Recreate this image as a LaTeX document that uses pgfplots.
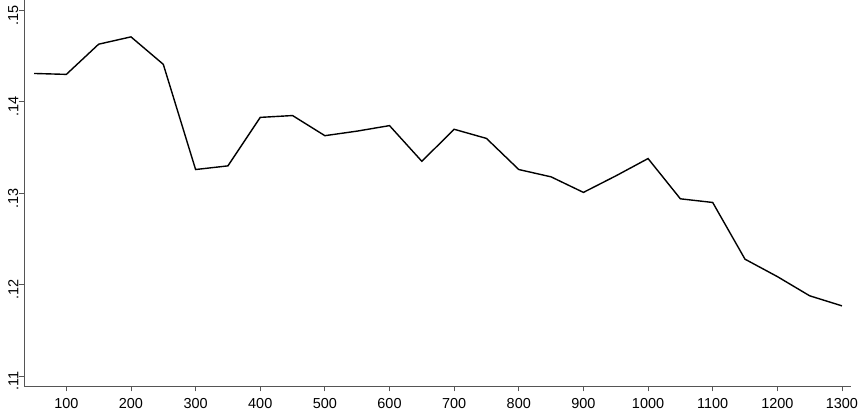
\documentclass[border=0pt]{standalone}
\usepackage{fontspec}
\setmainfont{Liberation Sans}
\usepackage{pgfplots}
\pgfplotsset{compat=1.18}
\definecolor{axisgray}{HTML}{555555}

\begin{document}
\begin{tikzpicture}
\begin{axis}[
  scale only axis,
  width=827bp, height=386bp,
  xmin=34.5, xmax=1314,
  ymin=0.10894, ymax=0.15113,
  axis x line*=bottom, axis y line*=left,
  axis line style={axisgray, line width=0.9bp, -},
  xtick={100,200,...,1300},
  ytick={0.11,0.12,0.13,0.14,0.15},
  yticklabels={.11,.12,.13,.14,.15},
  tick style={axisgray, line width=0.9bp},
  tick align=outside,
  major tick length=5.5bp,
  xticklabel style={font=\fontsize{14.5}{14.5}\selectfont, anchor=north, inner sep=0pt, yshift=-6.5bp},
  yticklabel style={font=\fontsize{14.5}{14.5}\selectfont, rotate=90, anchor=south, inner sep=0pt, xshift=-5bp},
  /pgf/number format/assume math mode=true,
  /pgf/number format/1000 sep={},
  scaled ticks=false,
]
\coordinate (bl) at (rel axis cs:0,0);
\addplot[black, line width=1.4bp, mark=none] coordinates {
(50,0.1431)(100,0.1430)(150,0.1463)(200,0.1471)(250,0.1441)
(300,0.1326)(350,0.1330)(400,0.1383)(450,0.1385)(500,0.1363)
(550,0.1368)(600,0.1374)(650,0.1335)(700,0.1370)(750,0.1360)
(800,0.1326)(850,0.1318)(900,0.1301)(950,0.1319)(1000,0.1338)
(1050,0.1294)(1100,0.1290)(1150,0.1228)(1200,0.1209)(1250,0.1188)
(1300,0.1177)};
\end{axis}
\pgfresetboundingbox
\path ([shift={(-24bp,-25bp)}]bl) rectangle ([shift={(834bp,386bp)}]bl);
\end{tikzpicture}
\end{document}
